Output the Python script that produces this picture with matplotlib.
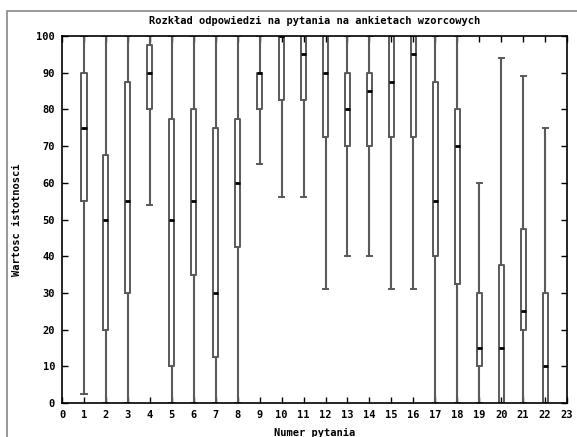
import matplotlib.pyplot as plt
from matplotlib.patches import Rectangle

# question numbers and box statistics
questions = list(range(1, 23))
whis_lo = [2.5, 0, 0, 54, 0, 0, 0, 0, 65, 56, 56, 31, 40, 40, 31, 31, 0, 0, 0, 0, 0, 0]
q1 = [55, 20, 30, 80, 10, 35, 12.5, 42.5, 80, 82.5, 82.5, 72.5, 70, 70, 72.5, 72.5, 40, 32.5, 10, 0, 20, 0]
median = [75, 50, 55, 90, 50, 55, 30, 60, 90, 100, 95, 90, 80, 85, 87.5, 95, 55, 70, 15, 15, 25, 10]
q3 = [90, 67.5, 87.5, 97.5, 77.5, 80, 75, 77.5, 90, 100, 100, 100, 90, 90, 100, 100, 87.5, 80, 30, 37.5, 47.5, 30]
whis_hi = [100, 100, 100, 100, 100, 100, 100, 100, 100, 100, 100, 100, 100, 100, 100, 100, 100, 100, 60, 94, 89, 75]

title = "Rozkład odpowiedzi na pytania na ankietach wzorcowych"
xlabel = "Numer pytania"
ylabel = "Wartosc istotnosci"

plt.rcParams['font.family'] = ['DejaVu Sans Mono']
plt.rcParams['font.weight'] = 'bold'

fig = plt.figure(figsize=(5.77, 4.37), dpi=100)
ax = fig.add_axes([0.1075, 0.0778, 0.8752, 0.8398])

stats = [dict(med=m, q1=a, q3=b, whislo=lo, whishi=hi, fliers=[])
         for lo, a, m, b, hi in zip(whis_lo, q1, median, q3, whis_hi)]
gray = "#5a5a5a"
ax.bxp(stats, positions=questions, widths=0.23, capwidths=0.23,
       boxprops=dict(color=gray, lw=1.4),
       whiskerprops=dict(color=gray, lw=1.5),
       capprops=dict(color=gray, lw=1.4),
       medianprops=dict(color="black", lw=2.0),
       manage_ticks=False)

ax.set_xlim(0, 23)
ax.set_ylim(0, 100)
ax.set_xticks(range(0, 24))
ax.set_yticks(range(0, 101, 10))
ax.tick_params(direction="in", top=True, right=True, length=4, labelsize=7.5,
               width=1, colors="black", pad=5)
for s in ax.spines.values():
    s.set_linewidth(1.2)

ax.set_title(title, fontsize=7.5, fontweight="bold", pad=9)
ax.set_xlabel(xlabel, fontsize=7.5, fontweight="bold", labelpad=6)
ax.set_ylabel(ylabel, fontsize=7.5, fontweight="bold", labelpad=10)

fig.patches.append(Rectangle((0.012, -0.1), 1.1, 1.075, transform=fig.transFigure,
                             fill=False, edgecolor="#888888", lw=1.2))

fig.savefig("out.png", dpi=100)
